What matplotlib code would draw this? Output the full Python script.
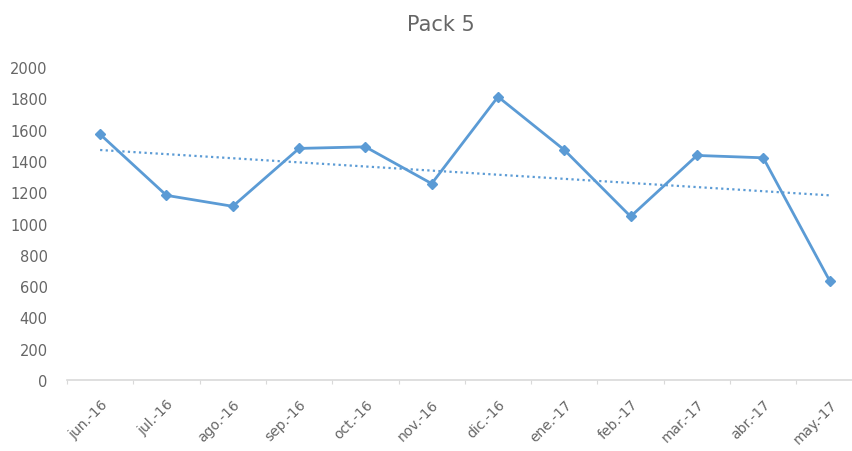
import numpy as np
import matplotlib.pyplot as plt

meses = ["jun.-16", "jul.-16", "ago.-16", "sep.-16", "oct.-16", "nov.-16",
         "dic.-16", "ene.-17", "feb.-17", "mar.-17", "abr.-17", "may.-17"]
ventas = [1570, 1180, 1110, 1480, 1490, 1255, 1810, 1470, 1045, 1435, 1420, 635]

azul = "#5b9bd5"
gris = "#666666"

fig = plt.figure(figsize=(8.52, 4.52), dpi=100)
ax = fig.add_axes([0.0786, 0.157, 0.934, 0.6925])

x = np.arange(len(meses))
ax.plot(x, ventas, color=azul, lw=2.0, marker="D", ms=5, zorder=3)

# linea de tendencia (lineal, como en Excel)
m, b = np.polyfit(x, ventas, 1)
ax.plot(x, m * x + b, color=azul, lw=1.6, ls=(0, (1, 1.5)), zorder=2)

ax.set_xlim(-0.5, len(meses) - 0.5)
ax.set_ylim(0, 2000)
ax.set_yticks(np.arange(0, 2001, 200))
ax.tick_params(axis="y", length=0, labelsize=10.5, labelcolor=gris, pad=14)

ax.set_xticks(x)
ax.set_xticklabels(meses, rotation=45, ha="right", rotation_mode="anchor",
                   fontsize=10, color=gris)
ax.tick_params(axis="x", length=0, pad=12)
ax.set_xticks(np.arange(-0.5, len(meses), 1), minor=True)
ax.tick_params(axis="x", which="minor", length=3, color="#d9d9d9", width=0.8)

for s in ["top", "right", "left"]:
    ax.spines[s].set_visible(False)
ax.spines["bottom"].set_color("#d9d9d9")
ax.spines["bottom"].set_linewidth(1.2)

fig.text(0.518, 0.945, "Pack 5", ha="center", va="center", fontsize=15, color=gris)

plt.savefig("out.png", dpi=100)
